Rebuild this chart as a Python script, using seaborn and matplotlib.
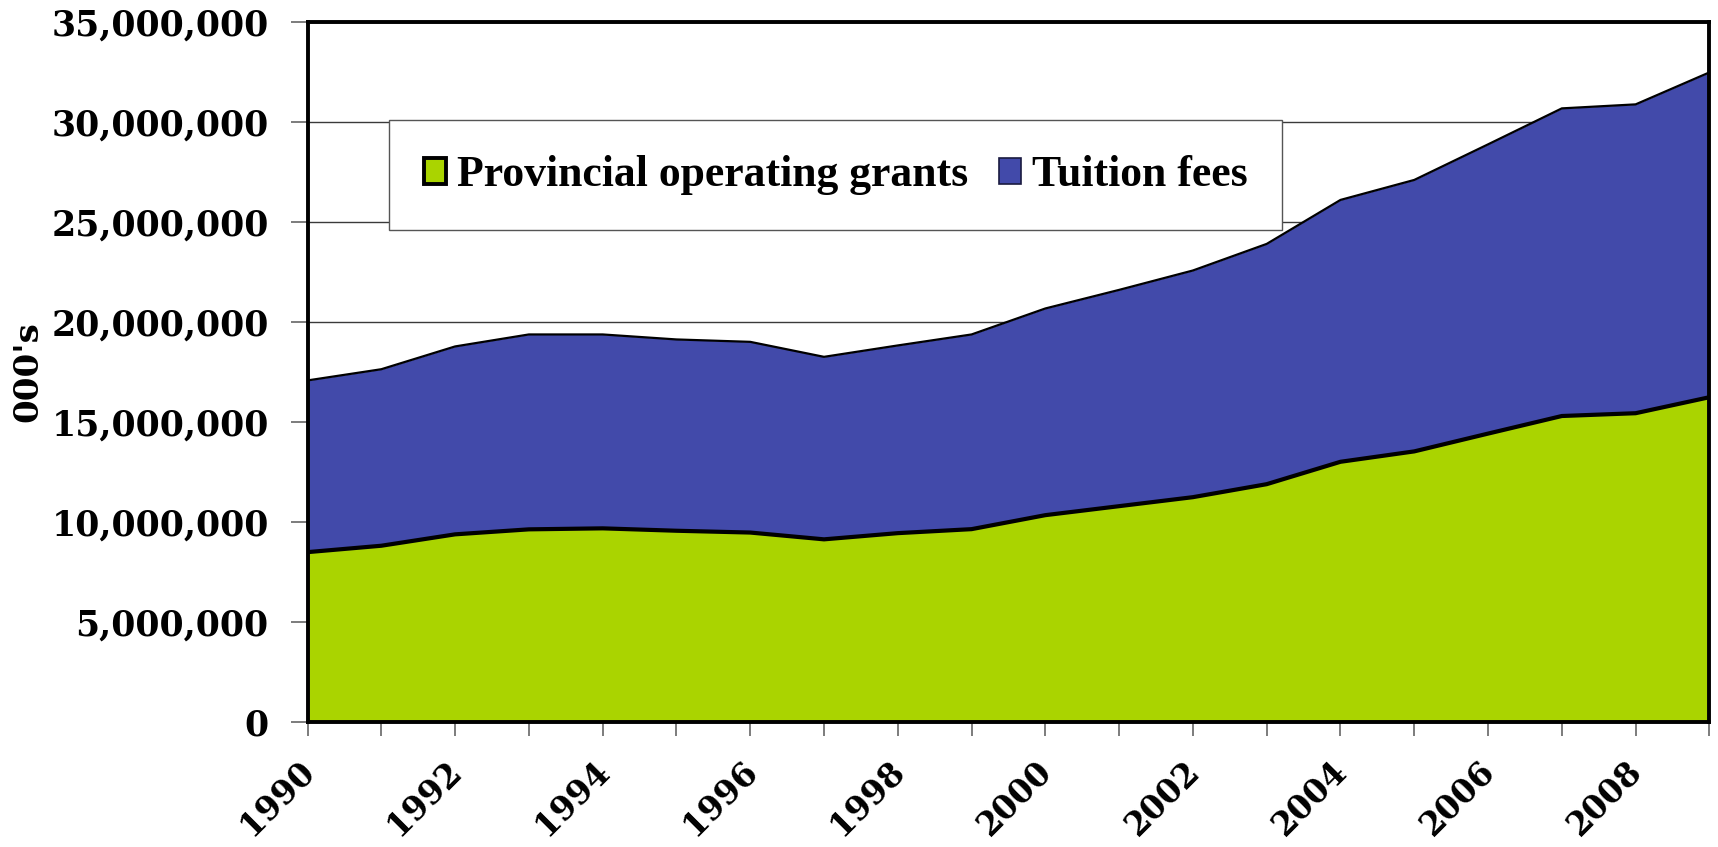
import matplotlib
matplotlib.use("Agg")
import matplotlib.pyplot as plt
import matplotlib.transforms as mtransforms
import seaborn as sns
import numpy as np
import pandas as pd
from matplotlib.patches import Patch
from matplotlib.ticker import FuncFormatter, MultipleLocator

years = list(range(1990, 2010))
provincial_grants = [8.48e6, 8.80e6, 9.37e6, 9.62e6, 9.67e6, 9.55e6, 9.46e6, 9.12e6,
                     9.43e6, 9.63e6, 10.33e6, 10.78e6, 11.23e6, 11.88e6, 13.00e6,
                     13.52e6, 14.41e6, 15.29e6, 15.43e6, 16.23e6]
total_revenue = [17.07e6, 17.63e6, 18.77e6, 19.37e6, 19.37e6, 19.12e6, 19.00e6, 18.25e6,
                 18.82e6, 19.37e6, 20.67e6, 21.60e6, 22.57e6, 23.90e6, 26.10e6,
                 27.10e6, 28.88e6, 30.68e6, 30.88e6, 32.48e6]
tuition_fees = [t - p for t, p in zip(total_revenue, provincial_grants)]
series_names = ["Provincial operating grants", "Tuition fees"]
y_label = "000's"

df = pd.DataFrame({"year": years, "grants": provincial_grants,
                   "tuition": tuition_fees})
df["total"] = df["grants"] + df["tuition"]

sns.set_theme(style="white")
plt.rcParams['font.family'] = ['DejaVu Serif']
plt.rcParams['text.color'] = 'black'
plt.rcParams['xtick.color'] = 'black'
plt.rcParams['ytick.color'] = 'black'
plt.rcParams['axes.labelcolor'] = 'black'

GREEN = "#AAD400"
BLUE = "#424AAA"

fig = plt.figure(figsize=(17.18, 8.47), dpi=100)
ax = fig.add_axes([0.179, 0.148, 0.816, 0.826])

ax.set_axisbelow(True)
ax.yaxis.grid(True, color="#3a3a3a", linewidth=1.0)
ax.xaxis.grid(False)

ax.fill_between(df["year"], 0, df["grants"], color=GREEN, linewidth=0, zorder=2)
ax.fill_between(df["year"], df["grants"], df["total"], color=BLUE, linewidth=0, zorder=2)
sns.lineplot(data=df, x="year", y="total", ax=ax, color="black", linewidth=1.6,
             zorder=3, legend=False)
sns.lineplot(data=df, x="year", y="grants", ax=ax, color="black", linewidth=3.0,
             zorder=3, legend=False)

ax.set_xlim(1990, 2009)
ax.set_ylim(0, 35e6)
ax.yaxis.set_major_locator(MultipleLocator(5e6))
ax.yaxis.set_major_formatter(FuncFormatter(lambda v, p: f"{int(v):,}"))
ax.set_xticks(years)
ax.set_xticklabels([str(y) if y % 2 == 0 else "" for y in years])

for s in ax.spines.values():
    s.set_visible(True)
    s.set_color("black")
    s.set_linewidth(2.8)
    s.set_zorder(5)

ax.tick_params(axis="y", which="major", direction="out", length=12, width=1.2,
               color="#666666", labelcolor="black", pad=16, left=True)
ax.tick_params(axis="x", which="major", direction="out", length=10, width=1.2,
               color="#666666", labelcolor="black", pad=2, bottom=True)
for lab in ax.get_yticklabels():
    lab.set_fontsize(25)
    lab.set_fontweight("bold")
    lab.set_fontfamily("DejaVu Serif")
    lab.set_color("black")
offset = mtransforms.ScaledTranslation(-10 / 100, -16 / 100, fig.dpi_scale_trans)
for lab in ax.get_xticklabels():
    lab.set_fontsize(23.5)
    lab.set_fontweight("bold")
    lab.set_fontfamily("DejaVu Serif")
    lab.set_color("black")
    lab.set_rotation(45)
    lab.set_ha("right")
    lab.set_va("top")
    lab.set_rotation_mode("anchor")
    lab.set_transform(lab.get_transform() + offset)

ax.set_xlabel("")
ax.set_ylabel(y_label, fontsize=24.5, fontweight="bold", fontfamily="DejaVu Serif",
              labelpad=5, color="black")

handles = [Patch(facecolor=GREEN, edgecolor="black", linewidth=2.8),
           Patch(facecolor=BLUE, edgecolor="#1a1a40", linewidth=1.2)]
leg = fig.legend(handles, series_names, loc="upper left",
                 bbox_to_anchor=(0.2265, 0.858), ncol=2, frameon=True,
                 fancybox=False, shadow=False, borderpad=0.8,
                 handlelength=0.5, handleheight=0.55, handletextpad=0.25,
                 columnspacing=0.7, borderaxespad=0,
                 prop={"family": "Liberation Serif", "weight": "bold", "size": 31.5})
for t in leg.get_texts():
    t.set_color("black")
leg.get_frame().set_edgecolor("#555555")
leg.get_frame().set_linewidth(1.0)
leg.get_frame().set_facecolor("white")
leg.get_frame().set_alpha(1.0)

fig.savefig("out.png", dpi=100)
